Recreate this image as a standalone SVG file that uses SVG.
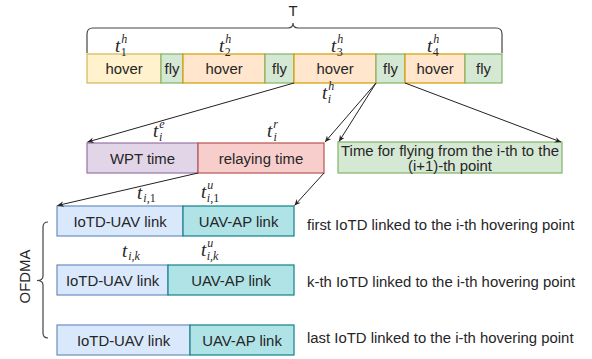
<svg xmlns="http://www.w3.org/2000/svg" width="592" height="359" viewBox="0 0 592 359">
  <defs>
    <marker id="arrow" viewBox="0 0 10 10" refX="9" refY="5" markerWidth="7" markerHeight="7" orient="auto-start-reverse" markerUnits="userSpaceOnUse">
      <path d="M0,1 L9,5 L0,9 L3,5 Z" fill="#222"/>
    </marker>
    <style>
      .lbl { font-family: "Liberation Sans", Arial, sans-serif; font-size: 14.9px; fill: #262626; }
      .math { font-family: "Liberation Serif", "Times New Roman", serif; font-style: italic; fill: #262626; }
      .t { font-size: 19px; }
      .s { font-size: 12px; }
      .n { font-style: normal; }
      .hoverY { fill: #fff2cc; stroke: #d6b656; }
      .hoverO { fill: #ffe6cc; stroke: #d79b00; }
      .fly { fill: #d5e8d4; stroke: #82b366; }
      .wpt { fill: #e1d5e7; stroke: #9673a6; }
      .relay { fill: #f8cecc; stroke: #b85450; }
      .up { fill: #dae8fc; stroke: #6c8ebf; }
      .ap { fill: #b0e3e6; stroke: #0e8088; }
      rect { stroke-width: 1.2; }
      .conn { stroke: #222; stroke-width: 1; fill: none; }
      .brace { stroke: #444; stroke-width: 1.2; fill: none; }
    </style>
  </defs>

  <!-- total period brace -->
  <g id="period">
    <path class="brace" d="M87,53 V34 Q87,28 93,28 H288 Q293,28 293,23 Q293,28 298,28 H496 Q502,28 502,34 V53"/>
    <text class="lbl" x="293" y="16" text-anchor="middle">T</text>
  </g>

  <!-- flight schedule row -->
  <g id="hover1"><rect class="hoverY" x="87" y="54" width="74" height="29"/><text class="lbl" x="124" y="74" text-anchor="middle">hover</text></g>
  <g id="fly1"><rect class="fly" x="161" y="54" width="22" height="29"/><text class="lbl" x="172" y="74" text-anchor="middle">fly</text></g>
  <g id="hover2"><rect class="hoverO" x="183" y="54" width="82" height="29"/><text class="lbl" x="224" y="74" text-anchor="middle">hover</text></g>
  <g id="fly2"><rect class="fly" x="265" y="54" width="29" height="29"/><text class="lbl" x="279.5" y="74" text-anchor="middle">fly</text></g>
  <g id="hover3"><rect class="hoverO" x="294" y="54" width="82" height="29"/><text class="lbl" x="335" y="74" text-anchor="middle">hover</text></g>
  <g id="fly3"><rect class="fly" x="376" y="54" width="29" height="29"/><text class="lbl" x="390.5" y="74" text-anchor="middle">fly</text></g>
  <g id="hover4"><rect class="hoverO" x="405" y="54" width="60" height="29"/><text class="lbl" x="435" y="74" text-anchor="middle">hover</text></g>
  <g id="fly4"><rect class="fly" x="465" y="54" width="37" height="29"/><text class="lbl" x="483.5" y="74" text-anchor="middle">fly</text></g>

  <!-- hovering durations -->
  <g id="th-labels" class="math">
    <text x="115" y="51.5"><tspan class="t">t</tspan><tspan class="s" dx="1" dy="-9">h</tspan><tspan class="s n" dx="-6.5" dy="13">1</tspan></text>
    <text x="219" y="51.5"><tspan class="t">t</tspan><tspan class="s" dx="1" dy="-9">h</tspan><tspan class="s n" dx="-6.5" dy="13">2</tspan></text>
    <text x="331" y="51.5"><tspan class="t">t</tspan><tspan class="s" dx="1" dy="-9">h</tspan><tspan class="s n" dx="-6.5" dy="13">3</tspan></text>
    <text x="427" y="51.5"><tspan class="t">t</tspan><tspan class="s" dx="1" dy="-9">h</tspan><tspan class="s n" dx="-6.5" dy="13">4</tspan></text>
    <text x="322" y="99"><tspan class="t">t</tspan><tspan class="s" dx="1" dy="-9">h</tspan><tspan class="s" dx="-6.5" dy="13">i</tspan></text>
  </g>

  <!-- hovering split -->
  <g id="wpt"><rect class="wpt" x="87" y="143" width="111" height="30"/><text class="lbl" x="142.5" y="163.5" text-anchor="middle">WPT time</text></g>
  <g id="relaying"><rect class="relay" x="198" y="143" width="126" height="30"/><text class="lbl" x="261" y="163.5" text-anchor="middle">relaying time</text></g>
  <g id="flytime"><rect class="fly" x="338" y="142" width="224" height="31"/>
    <text class="lbl" x="450" y="156" text-anchor="middle">Time for flying from the i-th to the</text>
    <text class="lbl" x="450" y="171" text-anchor="middle">(i+1)-th point</text>
  </g>
  <g id="ter-labels" class="math">
    <text x="153" y="137"><tspan class="t">t</tspan><tspan class="s" dx="1" dy="-9">e</tspan><tspan class="s" dx="-5.5" dy="13">i</tspan></text>
    <text x="267" y="137"><tspan class="t">t</tspan><tspan class="s" dx="1" dy="-9">r</tspan><tspan class="s" dx="-4.5" dy="13">i</tspan></text>
  </g>

  <!-- OFDMA links -->
  <g id="first-iotd">
    <rect class="up" x="57" y="206" width="126" height="30"/><text class="lbl" x="120" y="226.5" text-anchor="middle">IoTD-UAV link</text>
    <rect class="ap" x="183" y="206" width="111" height="30"/><text class="lbl" x="238.5" y="226.5" text-anchor="middle">UAV-AP link</text>
    <text class="lbl" x="307" y="230">first IoTD linked to the i-th hovering point</text>
  </g>
  <g id="kth-iotd">
    <rect class="up" x="57" y="265" width="111" height="30"/><text class="lbl" x="112.5" y="285.5" text-anchor="middle">IoTD-UAV link</text>
    <rect class="ap" x="168" y="265" width="126" height="30"/><text class="lbl" x="231" y="285.5" text-anchor="middle">UAV-AP link</text>
    <text class="lbl" x="307" y="286.5">k-th IoTD linked to the i-th hovering point</text>
  </g>
  <g id="last-iotd">
    <rect class="up" x="57" y="325" width="133" height="30"/><text class="lbl" x="123.5" y="345.5" text-anchor="middle">IoTD-UAV link</text>
    <rect class="ap" x="190" y="325" width="104" height="30"/><text class="lbl" x="242" y="345.5" text-anchor="middle">UAV-AP link</text>
    <text class="lbl" x="307" y="343">last IoTD linked to the i-th hovering point</text>
  </g>
  <g id="tik-labels" class="math">
    <text x="137" y="199"><tspan class="t">t</tspan><tspan class="s" dx="1" dy="3">i</tspan><tspan class="s n">,1</tspan></text>
    <text x="201" y="198"><tspan class="t">t</tspan><tspan class="s" dx="1" dy="-9">u</tspan><tspan class="s" dx="-6.5" dy="13">i</tspan><tspan class="s n">,1</tspan></text>
    <text x="122" y="257"><tspan class="t">t</tspan><tspan class="s" dx="1" dy="3">i,k</tspan></text>
    <text x="201" y="256"><tspan class="t">t</tspan><tspan class="s" dx="1" dy="-9">u</tspan><tspan class="s" dx="-6.5" dy="13">i,k</tspan></text>
  </g>

  <g id="ofdma">
    <path class="brace" d="M48,222 Q43,222 43,227 V276 Q43,280.5 37,280.5 Q43,280.5 43,285 V333 Q43,338 48,338"/>
    <text class="lbl" transform="translate(29.5,276.5) rotate(-90)" text-anchor="middle">OFDMA</text>
  </g>

  <!-- connectors -->
  <g id="connectors">
    <line class="conn" x1="294" y1="83" x2="87.5" y2="142" marker-end="url(#arrow)"/>
    <line class="conn" x1="376" y1="83" x2="325" y2="142" marker-end="url(#arrow)"/>
    <line class="conn" x1="376" y1="83" x2="339" y2="141.5" marker-end="url(#arrow)"/>
    <line class="conn" x1="405" y1="83" x2="561" y2="142" marker-end="url(#arrow)"/>
    <line class="conn" x1="198" y1="173" x2="57.5" y2="205.5" marker-end="url(#arrow)"/>
    <line class="conn" x1="324" y1="173" x2="294.5" y2="205.5" marker-end="url(#arrow)"/>
  </g>
</svg>
